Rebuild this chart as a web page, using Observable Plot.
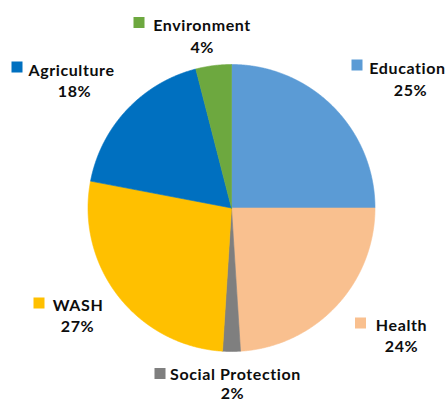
<!DOCTYPE html>
<html>
<head>
<meta charset="utf-8">
<script src="https://cdn.jsdelivr.net/npm/d3@7"></script>
<script src="https://cdn.jsdelivr.net/npm/@observablehq/plot@0.6"></script>
<style>
  html, body { margin: 0; padding: 0; background: #fff; }
  #chart { width: 448px; height: 401px; }
  svg { display: block; }
  svg text { letter-spacing: 0.6px; }
</style>
</head>
<body>
<div id="chart"></div>
<script>
// ---- data ----
const categories = ["Education", "Health", "Social Protection", "WASH", "Agriculture", "Environment"];
const shares = [25, 24, 2, 27, 18, 4];
const percentLabels = ["25%", "24%", "2%", "27%", "18%", "4%"];
const sliceColors = ["#5B9BD5", "#F9C08F", "#7F7F7F", "#FFC000", "#0070C0", "#6DA83F"];

// ---- layout ----
const W = 448, H = 401;
const cx = 231, cy = 207.5, R = 143.5;
// label layout: [text center x, first baseline y, square center x, square center y, percent center x, percent baseline offset]
const labelLayout = {
  "Education":         [407, 73.5, 357, 65, 410, 21.5],
  "Health":            [401, 330, 360.5, 323, 401, 21.5],
  "Social Protection": [235, 379.5, 160, 373.5, 232, 19],
  "WASH":              [77.5, 310, 39, 303, 77, 21.5],
  "Agriculture":       [71, 75, 17, 67, 74, 21],
  "Environment":       [201.5, 30, 139, 22.5, 201.7, 22]
};
const sq = 11;

const rows = categories.map((c, i) => ({name: c, value: shares[i], pct: percentLabels[i]}));
const arcs = d3.pie().sort(null).value(d => d.value)(rows);

// polygon points for each slice, from the pie angles
const pts = [];
for (const a of arcs) {
  const n = Math.max(2, Math.ceil((a.endAngle - a.startAngle) / 0.005));
  pts.push({name: a.data.name, px: cx, py: cy});
  for (let k = 0; k <= n; k++) {
    const t = a.startAngle + (a.endAngle - a.startAngle) * k / n;
    pts.push({name: a.data.name, px: cx + R * Math.sin(t), py: cy - R * Math.cos(t)});
  }
  pts.push({name: a.data.name, px: cx, py: cy});
}

const labels = rows.map(d => {
  const L = labelLayout[d.name];
  return {name: d.name, pct: d.pct, tx: L[0], ty: L[1], sx: L[2], sy: L[3], px: L[4], gap: L[5]};
});

const font = "Lato, 'Open Sans', sans-serif";

const chart = Plot.plot({
  width: W,
  height: H,
  margin: 0,
  style: {background: "#fff", fontFamily: font},
  x: {domain: [0, W], range: [0, W], axis: null},
  y: {domain: [0, H], range: [0, H], axis: null},
  color: {domain: categories, range: sliceColors},
  marks: [
    Plot.line(pts, {x: "px", y: "py", z: "name", fill: "name", stroke: "name", strokeWidth: 0.6, curve: "linear"}),
    Plot.rect(labels, {
      x1: d => d.sx - sq / 2, x2: d => d.sx + sq / 2,
      y1: d => d.sy - sq / 2, y2: d => d.sy + sq / 2,
      fill: "name"
    }),
    Plot.text(labels, {x: "tx", y: "ty", text: "name", lineAnchor: "bottom", textAnchor: "middle",
      fontSize: 16, fontWeight: "bold", fill: "#0d0d0d", fontFamily: font}),
    Plot.text(labels, {x: "px", y: d => d.ty + d.gap, text: "pct", lineAnchor: "bottom", textAnchor: "middle",
      fontSize: 16, fontWeight: "bold", fill: "#0d0d0d", fontFamily: font})
  ]
});
document.getElementById("chart").appendChild(chart);
</script>
</body>
</html>
